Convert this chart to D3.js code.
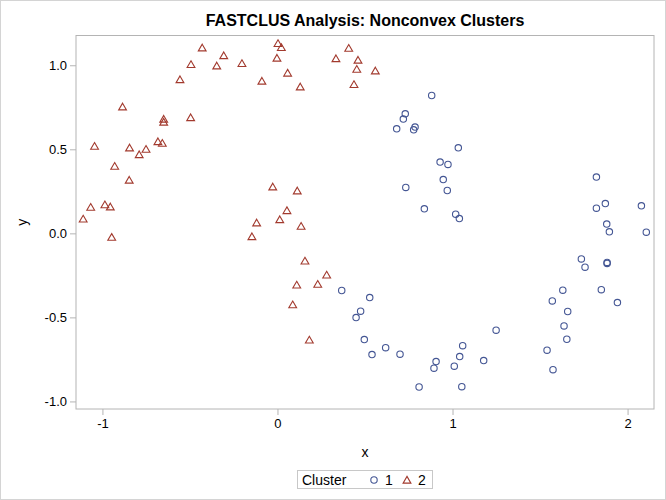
<!DOCTYPE html>
<html>
<head>
<meta charset="utf-8">
<script src="https://cdn.jsdelivr.net/npm/d3@7"></script>
<style>
  body { margin: 0; background: #fff; }
  text { font-family: "Liberation Sans", Arial, sans-serif; }
</style>
</head>
<body>
<div id="chart"></div>
<script>
// cluster 1 (circles)
var cluster1X = [0.881, 0.730, 0.719, 0.681, 0.786, 0.778, 0.929, 0.974, 0.947, 0.970,
  0.733, 0.839, 1.033, 1.018, 1.039, 1.822, 1.822, 1.873, 2.079, 1.881,
  1.896, 2.107, 1.736, 1.757, 1.883, 1.883, 1.630, 1.570, 1.850, 1.942,
  1.658, 1.637, 1.653, 1.540, 1.574, 1.249, 1.178, 1.058, 1.041, 1.010,
  1.053, 0.367, 0.527, 0.475, 0.449, 0.496, 0.540, 0.618, 0.700, 0.906,
  0.894, 0.809];
var cluster1Y = [0.820, 0.711, 0.680, 0.622, 0.632, 0.616, 0.424, 0.410, 0.320, 0.255,
  0.273, 0.146, 0.509, 0.114, 0.088, 0.335, 0.150, 0.177, 0.164, 0.055,
  0.009, 0.007, -0.152, -0.201, -0.173, -0.179, -0.338, -0.402, -0.335, -0.412,
  -0.465, -0.551, -0.630, -0.695, -0.811, -0.576, -0.757, -0.668, -0.733, -0.790,
  -0.912, -0.340, -0.382, -0.463, -0.501, -0.632, -0.721, -0.680, -0.719, -0.763,
  -0.802, -0.914];
// cluster 2 (triangles)
var cluster2X = [-1.110, -1.067, -1.045, -0.986, -0.955, -0.930, -0.885, -0.845, -0.847, -0.790,
  -0.751, -0.683, -0.658, -0.650, -0.650, -0.496, -0.557, -0.494, -0.430, -0.347,
  -0.307, -0.203, -0.089, 0.003, 0.022, -0.003, 0.058, 0.130, 0.334, 0.407,
  0.460, 0.453, 0.559, 0.437, -0.947, -0.027, 0.113, 0.054, 0.013, -0.119,
  0.135, -0.146, 0.157, 0.281, 0.110, 0.230, 0.087, 0.182];
var cluster2Y = [0.086, 0.156, 0.519, 0.171, 0.158, 0.400, 0.753, 0.509, 0.317, 0.469,
  0.501, 0.546, 0.537, 0.680, 0.662, 0.689, 0.915, 1.005, 1.104, 0.997,
  1.058, 1.011, 0.906, 1.130, 1.106, 1.043, 0.954, 0.872, 1.040, 1.102,
  1.031, 0.977, 0.967, 0.886, -0.023, 0.277, 0.253, 0.136, 0.082, 0.063,
  0.043, -0.019, -0.164, -0.247, -0.307, -0.302, -0.424, -0.634];

var xTicks = [-1, 0, 1, 2];
var yTicks = [-1.0, -0.5, 0.0, 0.5, 1.0];
var legendLabels = ["1", "2"];

var W = 666, H = 500;
var col1 = "#445694", col2 = "#A23A2E", frameCol = "#b4b4b4";

var svg = d3.select("#chart").append("svg")
  .attr("width", W).attr("height", H);

// outer border
svg.append("rect")
  .attr("x", 0.5).attr("y", 0.5).attr("width", W - 1).attr("height", H - 1)
  .attr("fill", "#fff").attr("stroke", "#d4d4d4");

var plot = {left: 76, right: 654, top: 35.5, bottom: 409};

var x = d3.scaleLinear().domain([-1.151, 2.151]).range([plot.left, plot.right]);
var y = d3.scaleLinear().domain([-1.045, 1.177]).range([plot.bottom, plot.top]);

// title
svg.append("text")
  .attr("x", (plot.left + plot.right) / 2).attr("y", 26)
  .attr("text-anchor", "middle")
  .style("font-size", "16px").style("font-weight", "bold")
  .text("FASTCLUS Analysis: Nonconvex Clusters");

// axes
var xAxis = svg.append("g")
  .attr("transform", "translate(0," + plot.bottom + ")")
  .call(d3.axisBottom(x).tickValues(xTicks).tickSize(6).tickPadding(4).tickFormat(d3.format("d")));
var yAxis = svg.append("g")
  .attr("transform", "translate(" + plot.left + ",0)")
  .call(d3.axisLeft(y).tickValues(yTicks).tickSize(6).tickPadding(3).tickFormat(d3.format(".1f")));

[xAxis, yAxis].forEach(function(a) {
  a.select(".domain").remove();
  a.selectAll(".tick line").attr("stroke", frameCol);
  a.selectAll(".tick text").attr("fill", "#000").style("font-size", "13px")
    .style("font-family", "'Liberation Sans', Arial, sans-serif");
});
yAxis.selectAll(".tick text").text(function(d) { return d3.format(".1f")(d).replace("−", "-"); });
xAxis.selectAll(".tick text").text(function(d) { return String(d); });

// frame
svg.append("rect")
  .attr("x", plot.left).attr("y", plot.top)
  .attr("width", plot.right - plot.left).attr("height", plot.bottom - plot.top)
  .attr("fill", "none").attr("stroke", frameCol);

// axis labels
svg.append("text")
  .attr("x", (plot.left + plot.right) / 2).attr("y", 457)
  .attr("text-anchor", "middle").style("font-size", "14px")
  .text("x");
svg.append("text")
  .attr("transform", "translate(27," + (plot.top + plot.bottom) / 2 + ") rotate(-90)")
  .attr("text-anchor", "middle").style("font-size", "14px")
  .text("y");

function triPath(cx, cy) {
  return "M" + cx + "," + (cy - 3.6) + "L" + (cx + 3.9) + "," + (cy + 3.1) +
    "L" + (cx - 3.9) + "," + (cy + 3.1) + "Z";
}

// cluster 1 markers
svg.append("g").selectAll("circle")
  .data(d3.range(cluster1X.length))
  .join("circle")
  .attr("cx", function(i) { return x(cluster1X[i]); })
  .attr("cy", function(i) { return y(cluster1Y[i]); })
  .attr("r", 3.2)
  .attr("fill", "none").attr("stroke", col1).attr("stroke-width", 1.1);

// cluster 2 markers
svg.append("g").selectAll("path")
  .data(d3.range(cluster2X.length))
  .join("path")
  .attr("d", function(i) { return triPath(x(cluster2X[i]), y(cluster2Y[i])); })
  .attr("fill", "none").attr("stroke", col2).attr("stroke-width", 1.1);

// legend
var lg = svg.append("g");
lg.append("rect")
  .attr("x", 297.5).attr("y", 470.5).attr("width", 135).attr("height", 18)
  .attr("fill", "#fff").attr("stroke", "#c8c8c8");
lg.append("text").attr("x", 302).attr("y", 485).style("font-size", "14px").text("Cluster");
lg.append("circle").attr("cx", 374).attr("cy", 480).attr("r", 3.2)
  .attr("fill", "none").attr("stroke", col1).attr("stroke-width", 1.1);
lg.append("text").attr("x", 385).attr("y", 485).style("font-size", "14px").text(legendLabels[0]);
lg.append("path").attr("d", triPath(407, 480))
  .attr("fill", "none").attr("stroke", col2).attr("stroke-width", 1.1);
lg.append("text").attr("x", 418).attr("y", 485).style("font-size", "14px").text(legendLabels[1]);
</script>
</body>
</html>
